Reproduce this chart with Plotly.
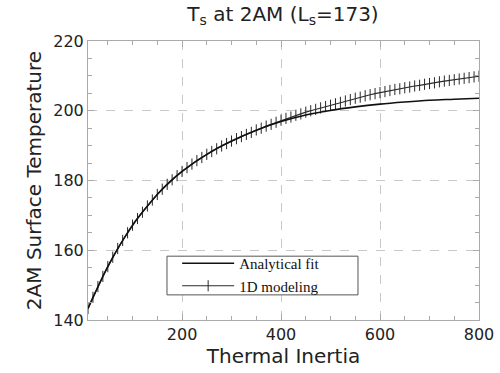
import plotly.graph_objects as go

# Data
fit_x = [10, 25, 50, 75, 100, 125, 150, 175, 200, 250, 300, 350, 400, 450, 500,
         550, 600, 650, 700, 750, 800]
fit_y = [143.3, 148.0, 155.3, 161.6, 167.2, 171.8, 176.0, 179.6, 182.6, 187.5,
         191.3, 194.4, 196.9, 198.8, 200.1, 201.1, 201.9, 202.5, 203.0, 203.3, 203.6]

model_x = list(range(10, 801, 10))
model_y = [
    143.3, 146.5, 149.6, 152.5, 155.3, 158.0, 160.5, 162.8, 165.0, 167.2,
    169.1, 170.9, 172.7, 174.4, 176.0, 177.5, 178.9, 180.2, 181.4, 182.6,
    183.7, 184.7, 185.7, 186.6, 187.5, 188.3, 189.1, 189.9, 190.6, 191.3,
    192.0, 192.6, 193.2, 193.8, 194.5, 195.0, 195.6, 196.1, 196.7, 197.3,
    197.8, 198.2, 198.7, 199.1, 199.6, 200.0, 200.4, 200.8, 201.2, 201.6,
    202.0, 202.4, 202.8, 203.2, 203.6, 203.9, 204.3, 204.6, 204.9, 205.2,
    205.5, 205.8, 206.1, 206.3, 206.6, 206.8, 207.1, 207.3, 207.6, 207.8,
    208.0, 208.3, 208.5, 208.7, 208.9, 209.1, 209.3, 209.5, 209.7, 209.9,
]

x_ticks = [200, 400, 600, 800]
y_ticks = [140, 160, 180, 200, 220]

SANS = "DejaVu Sans"
SERIF = "Liberation Serif"

fig = go.Figure()
fig.add_trace(go.Scatter(
    x=model_x, y=model_y, mode="lines+markers", name="1D modeling",
    line=dict(color="#2a2a2a", width=1.2),
    marker=dict(symbol="line-ns-open", size=8,
                line=dict(color="#b8b8b8", width=1)),
    legendrank=2,
))
fig.add_trace(go.Scatter(
    x=fit_x, y=fit_y, mode="lines", name="Analytical fit",
    line=dict(color="#111111", width=1.6, shape="spline"),
    legendrank=1,
))

axis_common = dict(
    showline=True, linecolor="#aaaaaa", linewidth=1, mirror="ticks",
    ticks="inside", ticklen=6, tickcolor="#aaaaaa",
    showgrid=True, gridcolor="#c8c8c8", griddash="dash", gridwidth=1,
    zeroline=False, automargin=False,
    tickfont=dict(family=SANS, size=16, color="#222222"),
)

fig.update_xaxes(
    range=[10, 800], tickvals=x_ticks, ticktext=[str(v) for v in x_ticks],
    minor=dict(dtick=50, tick0=0, ticks="inside", ticklen=4,
               tickcolor="#aaaaaa", showgrid=False),
    title=dict(text="Thermal Inertia",
               font=dict(family=SANS, size=20, color="#222222"),
               standoff=4),
    **axis_common,
)
fig.update_yaxes(
    range=[140, 220], tickvals=y_ticks, ticktext=[str(v) for v in y_ticks],
    minor=dict(dtick=5, tick0=0, ticks="inside", ticklen=4,
               tickcolor="#aaaaaa", showgrid=False),
    title=dict(text="2AM Surface Temperature",
               font=dict(family=SANS, size=20, color="#222222"),
               standoff=6),
    **axis_common,
)

# legend frame (white box with border, drawn over the grid)
fig.add_shape(type="rect", xref="x", yref="y",
              x0=169.6, x1=555.5, y0=147.2, y1=158.3,
              fillcolor="white", line=dict(color="#555555", width=1),
              layer="above")

fig.update_layout(
    width=500, height=373,
    margin=dict(l=88, r=21, t=41, b=53),
    paper_bgcolor="white", plot_bgcolor="white",
    title=dict(text="T<sub>s</sub> at 2AM (L<sub>s</sub>=173)",
               x=0.566, xanchor="center", y=0.963, yanchor="middle",
               font=dict(family=SANS, size=20, color="#222222"),
               automargin=False),
    legend=dict(x=0.228, y=0.163, xanchor="left", yanchor="middle",
                bgcolor="rgba(0,0,0,0)", borderwidth=0,
                font=dict(family=SERIF, size=15, color="#111111"),
                tracegroupgap=0, itemwidth=52, traceorder="normal"),
    showlegend=True,
)

fig.write_html("out.html", config={"displayModeBar": False},
               post_script="document.body.style.margin='0';")
